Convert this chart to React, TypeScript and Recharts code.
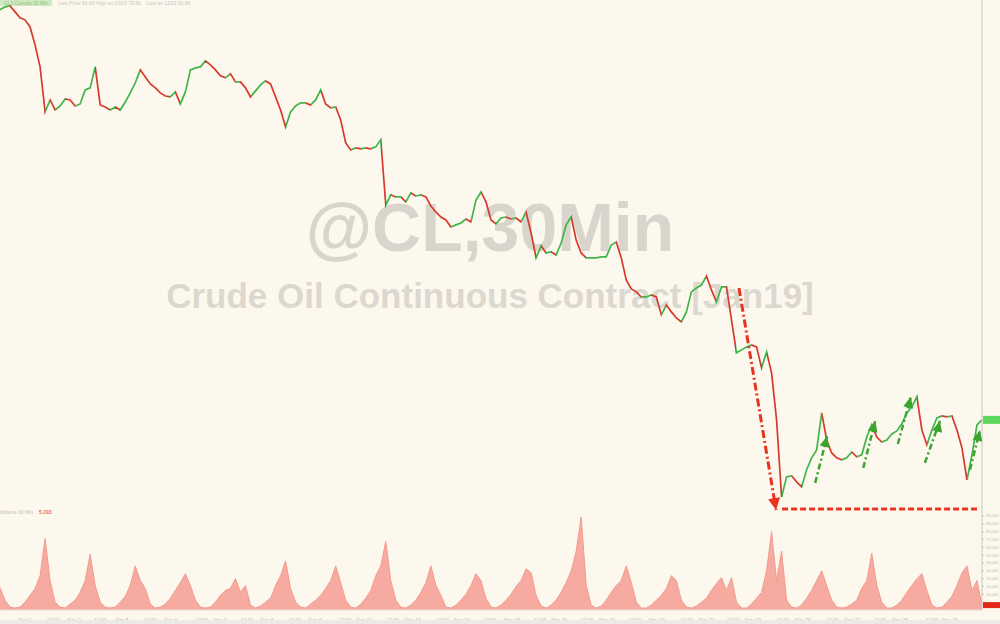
import React from "react";
import {
  ComposedChart,
  AreaChart,
  Line,
  Area,
  XAxis,
  YAxis,
  ReferenceLine,
  ReferenceDot,
} from "recharts";

// 30-minute closes (one point every ~5px)
const prices = [
  79.7, 79.92, 79.99, 79.55, 79.11, 78.96, 78.44, 77.14, 75.58, 72.48,
  73.29, 72.61, 72.88, 73.36, 73.29, 72.88, 73.02, 73.98, 74.12, 75.58,
  72.95, 72.81, 72.61, 72.81, 72.61, 73.15, 73.77, 74.46, 75.37, 74.88,
  74.39, 74.12, 73.77, 73.56, 73.5, 73.84, 73.02, 73.84, 75.37, 75.51,
  75.58, 76.0, 75.72, 75.37, 74.95, 74.81, 75.09, 74.53, 74.53, 74.12,
  73.5, 73.91, 74.32, 74.6, 74.39, 73.5, 72.61, 71.48, 72.48, 72.88,
  73.09, 73.09, 72.95, 73.29, 73.98, 73.02, 72.75, 72.81, 71.94, 70.42,
  69.96, 70.09, 70.03, 70.09, 70.03, 70.16, 70.62, 66.47, 67.1, 66.97,
  66.97, 66.66, 67.22, 67.03, 67.1, 66.97, 66.41, 66.04, 65.73, 65.55,
  65.12, 65.25, 65.37, 65.61, 65.43, 66.78, 67.28, 66.66, 65.55, 65.31,
  65.67, 65.73, 65.61, 65.67, 65.43, 66.04, 64.76, 63.28, 63.99, 63.57,
  63.63, 63.45, 64.16, 65.25, 65.73, 64.34, 63.57, 63.28, 63.28, 63.28,
  63.34, 63.34, 64.04, 64.22, 63.28, 61.99, 61.48, 61.31, 61.02, 61.02,
  61.14, 61.02, 60.01, 60.57, 60.18, 59.84, 59.62, 60.18, 61.31, 61.53,
  61.7, 62.22, 61.42, 60.74, 61.59, 61.59, 59.73, 57.93, 58.09, 58.25,
  58.36, 58.25, 57.13, 57.98, 56.86, 54.43, 50.66, 51.62, 51.67, 51.38,
  51.14, 51.96, 52.54, 52.93, 54.78, 53.42, 52.78, 52.54, 52.44, 52.54,
  52.83, 52.59, 52.69, 53.57, 54.18, 53.57, 53.32, 53.42, 53.72, 53.87,
  54.23, 54.78, 55.09, 55.61, 53.92, 53.18, 53.92, 54.53, 54.63, 54.58,
  54.63, 53.92, 53.03, 51.47, 52.69, 54.18, 54.43,
];

// volume, thousand contracts per bar
const volumes = [
  23, 10, 3, 2, 3, 8, 15, 22, 35, 73, 30, 8, 3, 2, 6, 10, 18, 30, 57, 25,
  8, 3, 2, 3, 8, 14, 25, 45, 30, 22, 6, 2, 3, 6, 12, 20, 28, 37, 25, 10,
  3, 2, 3, 8, 15, 20, 22, 32, 18, 25, 5, 2, 4, 8, 12, 25, 35, 50, 22, 8,
  3, 2, 6, 10, 15, 22, 30, 45, 28, 10, 3, 2, 6, 12, 20, 35, 45, 70, 30, 10,
  3, 2, 5, 10, 18, 28, 45, 25, 15, 3, 2, 5, 10, 16, 25, 37, 30, 12, 3, 2,
  5, 10, 16, 24, 30, 42, 38, 15, 4, 2, 5, 10, 18, 28, 40, 60, 95, 25, 5, 2,
  4, 10, 18, 25, 30, 45, 28, 8, 2, 2, 5, 10, 15, 22, 35, 30, 10, 3, 2, 4,
  8, 12, 20, 27, 33, 20, 33, 8, 2, 2, 6, 12, 18, 40, 80, 30, 60, 10, 3, 2,
  5, 12, 20, 30, 40, 25, 10, 3, 2, 3, 6, 10, 22, 30, 58, 25, 8, 2, 2, 5,
  10, 18, 25, 32, 37, 20, 5, 2, 3, 8, 14, 25, 38, 45, 20, 30, 5,
];

const priceTicks = [76, 72, 68, 64, 60, 56, 52];
const volumeTicks = [16, 24, 32, 40, 48, 56, 64, 72, 80, 88, 96];

// bottom axis: bar index of each label, and its text
const timeTicks = [
  5, 10.6, 14.8, 20, 24.4, 30, 34.1, 40.3, 43.9, 49.3, 53.3, 58.9, 62.9,
  68.9, 72.7, 78.4, 82.4, 88.4, 92.2, 97.8, 102.2, 107.8, 111.6, 117.2,
  121.2, 126.7, 131.1, 137.1, 141.1, 146.3, 150.3, 156.3, 160.3, 166.1,
  170.1, 175.6, 179.6, 186, 189.6,
];
const timeLabels = [
  "Nov 1", "12:00", "Nov 2", "12:00", "Nov 5", "12:00", "Nov 6", "12:00",
  "Nov 7", "12:00", "Nov 8", "12:00", "Nov 9", "12:00", "Nov 12", "12:00",
  "Nov 13", "12:00", "Nov 14", "12:00", "Nov 15", "12:00", "Nov 16", "12:00",
  "Nov 19", "12:00", "Nov 20", "12:00", "Nov 21", "12:00", "Nov 23", "12:00",
  "Nov 26", "12:00", "Nov 27", "12:00", "Nov 28", "12:00", "Nov 29",
];

// annotations, in (bar index, price)
const plungeArrow = { from: [147.5, 61.53], to: [154.9, 50.05] };
const floorLine = { from: [156.1, 50.1], to: [195.0, 50.1] };
const bounceArrows = [
  { from: [162.7, 51.33], to: [165.1, 53.62] },
  { from: [172.3, 52.05], to: [174.7, 54.38] },
  { from: [179.2, 53.22], to: [181.8, 55.61] },
  { from: [184.6, 52.3], to: [187.6, 54.38] },
  { from: [193.6, 51.96], to: [195.6, 53.92] },
];

const BG = "#fcf8ee";
const UP = "#3fb54a";
const DOWN = "#d63a2a";
const RED = "#e8341f";
const GREEN = "#3aa52e";

const rows = prices.map((p, i) => ({ i, p, v: volumes[i] }));
const last = rows.length - 1;

function arrowHead(angle: number, color: string, len = 11, half = 5.5) {
  const a = (angle * Math.PI) / 180;
  return (props: any) => {
    const { cx, cy } = props;
    const bx = cx - len * Math.cos(a);
    const by = cy - len * Math.sin(a);
    const nx = -Math.sin(a) * half;
    const ny = Math.cos(a) * half;
    return (
      <polygon
        points={`${cx},${cy} ${bx + nx},${by + ny} ${bx - nx},${by - ny}`}
        fill={color}
      />
    );
  };
}

function Tag({ viewBox, fill, h }: any) {
  if (!viewBox) return null;
  const x = viewBox.x + viewBox.width + 1;
  return <rect x={x} y={viewBox.y - h / 2} width={18} height={h} fill={fill} />;
}

export default function App() {
  const n = prices.length;
  const stops: React.ReactNode[] = [];
  for (let k = 0; k < n - 1; k++) {
    const c = prices[k + 1] >= prices[k] ? UP : DOWN;
    stops.push(<stop key={`a${k}`} offset={k / (n - 1)} stopColor={c} />);
    stops.push(<stop key={`b${k}`} offset={(k + 1) / (n - 1)} stopColor={c} />);
  }

  return (
    <div
      style={{
        position: "absolute",
        left: 0,
        top: 0,
        width: 1000,
        height: 624,
        background: BG,
        overflow: "hidden",
        fontFamily: "'Liberation Sans', Arial, sans-serif",
      }}
    >
      {/* watermark */}
      <div
        style={{
          position: "absolute",
          left: 0,
          width: 980,
          top: 187,
          textAlign: "center",
          fontSize: 68,
          fontWeight: 700,
          color: "#d9d5cc",
          lineHeight: "80px",
        }}
      >
        @CL,30Min
      </div>
      <div
        style={{
          position: "absolute",
          left: 0,
          width: 980,
          top: 276,
          textAlign: "center",
          fontSize: 35,
          fontWeight: 700,
          color: "#dcd8cf",
          lineHeight: "40px",
        }}
      >
        Crude Oil Continuous Contract [Jan19]
      </div>

      {/* legend strip on top */}
      <div style={{ position: "absolute", left: 0, top: 0, height: 6, lineHeight: "6px", fontSize: 5, color: "#c9c5bc", whiteSpace: "nowrap" }}>
        <span style={{ background: "#cfe9c3", color: "#8fbf80", padding: "0 4px" }}>CL1 Comdty 30 Min</span>
        <span style={{ marginLeft: 6 }}>Last Price 54.43 High on 10/03 79.99</span>
        <span style={{ marginLeft: 6 }}>Low on 11/23 50.66</span>
      </div>

      <div style={{ position: "absolute", left: 0, top: 0 }}>
        <ComposedChart width={1000} height={512} data={rows} margin={{ top: 0, right: 0, bottom: 0, left: 0 }}>
          <defs>
            <linearGradient id="dir" x1="0" y1="0" x2="1" y2="0">
              {stops}
            </linearGradient>
          </defs>
          <XAxis dataKey="i" type="number" domain={[0, 196]} hide />
          <YAxis
            orientation="right"
            width={18}
            scale="log"
            domain={[49.96, 80.43]}
            allowDataOverflow
            ticks={priceTicks}
            tick={false}
            tickSize={10}
            tickLine={{ stroke: "#cbc7be" }}
            axisLine={{ stroke: "#cbc7be" }}
          />
          <Line
            dataKey="p"
            type="linear"
            stroke="url(#dir)"
            strokeWidth={1.7}
            dot={false}
            activeDot={false}
            isAnimationActive={false}
          />
          <ReferenceLine
            segment={[
              { x: plungeArrow.from[0], y: plungeArrow.from[1] },
              { x: plungeArrow.to[0], y: plungeArrow.to[1] },
            ]}
            stroke={RED}
            strokeWidth={3}
            strokeDasharray="8 3 2 3"
            ifOverflow="visible"
          />
          <ReferenceDot
            x={plungeArrow.to[0]}
            y={plungeArrow.to[1]}
            ifOverflow="visible"
            shape={arrowHead(80.5, RED, 12, 6)}
          />
          <ReferenceLine
            segment={[
              { x: floorLine.from[0], y: floorLine.from[1] },
              { x: floorLine.to[0], y: floorLine.to[1] },
            ]}
            stroke={RED}
            strokeWidth={3}
            strokeDasharray="6 3"
            ifOverflow="visible"
          />
          {bounceArrows.map((a, k) => (
            <ReferenceLine
              key={`g${k}`}
              segment={[
                { x: a.from[0], y: a.from[1] },
                { x: a.to[0], y: a.to[1] },
              ]}
              stroke={GREEN}
              strokeWidth={2.5}
              strokeDasharray="6 3 2 3"
              ifOverflow="visible"
            />
          ))}
          {bounceArrows.map((a, k) => (
            <ReferenceDot
              key={`h${k}`}
              x={a.to[0]}
              y={a.to[1]}
              ifOverflow="visible"
              shape={arrowHead(-76, GREEN, 11, 5)}
            />
          ))}
          <ReferenceLine
            y={prices[last]}
            stroke="none"
            ifOverflow="visible"
            label={(props: any) => <Tag {...props} fill="#5cd85c" h={8} />}
          />
        </ComposedChart>
      </div>

      {/* volume legend */}
      <div style={{ position: "absolute", left: 0, top: 509, fontSize: 5, color: "#c4c0b7", whiteSpace: "nowrap" }}>
        <span>Volume 30 Min</span>
        <span style={{ marginLeft: 6, color: "#e8341f" }}>5,093</span>
      </div>

      <div style={{ position: "absolute", left: 0, top: 512 }}>
        <AreaChart width={1000} height={112} data={rows} margin={{ top: 0, right: 0, bottom: 0, left: 0 }}>
          <XAxis
            dataKey="i"
            type="number"
            domain={[0, 196]}
            ticks={timeTicks}
            tickFormatter={(v: number) => timeLabels[timeTicks.indexOf(v)] ?? ""}
            height={14}
            tick={{ fontSize: 5, fill: "#bcb8af" }}
            tickLine={false}
            axisLine={{ stroke: "#e3dfd6" }}
            interval={0}
          />
          <YAxis
            orientation="right"
            width={18}
            domain={[0, 100]}
            ticks={volumeTicks}
            tick={{ fontSize: 4, fill: "#c2beb5" }}
            tickSize={2}
            tickFormatter={(v: number) => `${v},000`}
            tickLine={{ stroke: "#cbc7be" }}
            axisLine={{ stroke: "#cbc7be" }}
            interval={0}
          />
          <Area
            dataKey="v"
            type="linear"
            stroke="#f39b90"
            strokeWidth={1}
            fill="#f7aa9f"
            fillOpacity={1}
            activeDot={false}
            isAnimationActive={false}
          />
          <ReferenceLine
            y={volumes[last]}
            stroke="none"
            ifOverflow="visible"
            label={(props: any) => <Tag {...props} fill="#e3271b" h={6} />}
          />
        </AreaChart>
      </div>

      <div style={{ position: "absolute", left: 0, top: 620, width: 1000, height: 4, background: "#ebeae6" }} />
    </div>
  );
}
